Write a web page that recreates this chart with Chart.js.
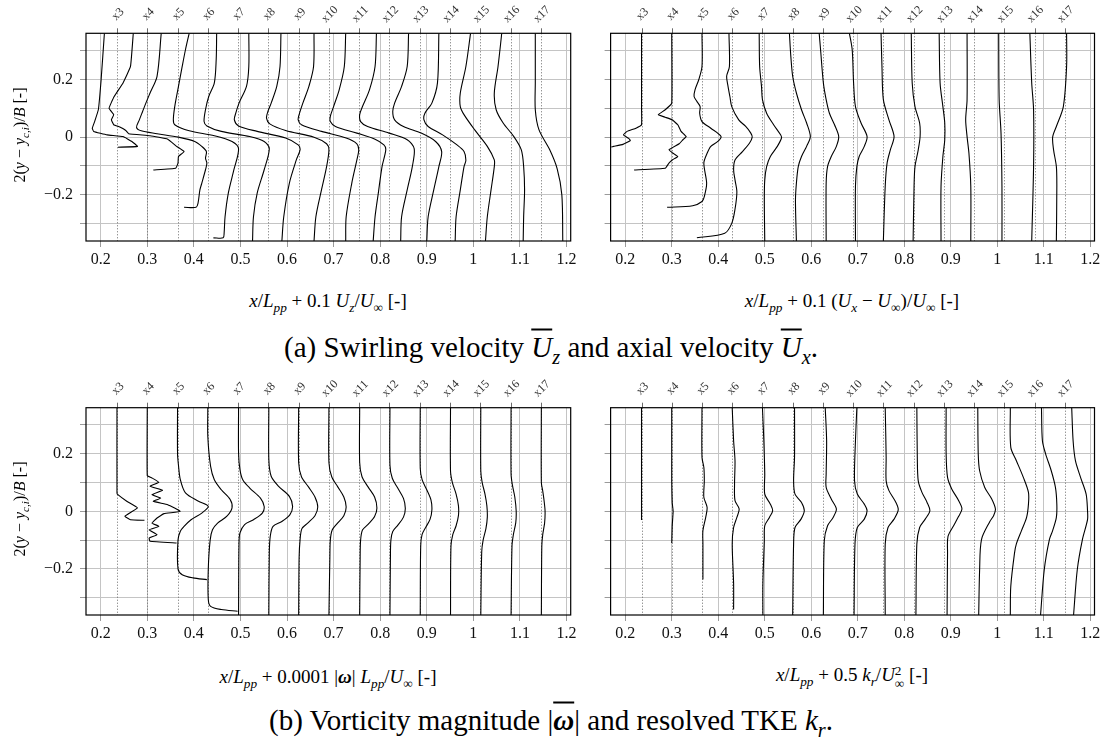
<!DOCTYPE html>
<html>
<head>
<meta charset="utf-8">
<script src="https://cdn.jsdelivr.net/npm/chart.js@4.4.1/dist/chart.umd.min.js"></script>
<style>
  body { margin: 0; background: #fff; width: 1107px; height: 740px; position: relative; overflow: hidden;
         font-family: "Liberation Serif", "DejaVu Serif", serif; color: #000; }
  canvas { position: absolute; }
  .t { position: absolute; white-space: nowrap; transform: translate(-50%, -50%); font-size: 19px; }
  .cap { font-size: 29px; }
  .yt { transform: translate(-50%, -50%) rotate(-90deg); font-size: 16px; }
  sub { font-size: 70%; vertical-align: -0.35em; line-height: 0; }
  .ss { display: inline-block; font-size: 70%; line-height: 1; vertical-align: -0.5em; text-align: left; }
  .ov { text-decoration: overline; }
</style>
</head>
<body>
<canvas id="uz" width="590" height="275" style="left:0;top:0"></canvas>
<canvas id="ux" width="517" height="275" style="left:590px;top:0"></canvas>
<canvas id="vort" width="590" height="275" style="left:0;top:370px"></canvas>
<canvas id="tke" width="517" height="275" style="left:590px;top:370px"></canvas>

<div class="t yt" style="left:20px;top:135px">2(<i>y</i> − <i>y</i><sub><i>c,i</i></sub>)/<i>B</i> [-]</div>
<div class="t yt" style="left:20px;top:509px">2(<i>y</i> − <i>y</i><sub><i>c,i</i></sub>)/<i>B</i> [-]</div>
<div class="t" style="left:328px;top:301px"><i>x</i>/<i>L</i><sub><i>pp</i></sub> + 0.1 <i>U</i><sub><i>z</i></sub>/<i>U</i><sub>∞</sub> [-]</div>
<div class="t" style="left:852px;top:301px"><i>x</i>/<i>L</i><sub><i>pp</i></sub> + 0.1 (<i>U</i><sub><i>x</i></sub> − <i>U</i><sub>∞</sub>)/<i>U</i><sub>∞</sub> [-]</div>
<div class="t" style="left:328px;top:677px"><i>x</i>/<i>L</i><sub><i>pp</i></sub> + 0.0001 |<b><i>ω</i></b>| <i>L</i><sub><i>pp</i></sub>/<i>U</i><sub>∞</sub> [-]</div>
<div class="t" style="left:852px;top:677px"><i>x</i>/<i>L</i><sub><i>pp</i></sub> + 0.5 <i>k</i><sub><i>r</i></sub>/<i>U</i><span class="ss">2<br>∞</span> [-]</div>
<div class="t cap" style="left:551px;top:347px">(a) Swirling velocity <i class="ov">U</i><sub><i>z</i></sub> and axial velocity <i class="ov">U</i><sub><i>x</i></sub>.</div>
<div class="t cap" style="left:551px;top:720px">(b) Vorticity magnitude |<b><i class="ov">ω</i></b>| and resolved TKE <i>k</i><sub><i>r</i></sub>.</div>

<script>
// stations x3..x17 (x/Lpp)
const stations = [0.235, 0.300, 0.365, 0.430, 0.495, 0.560, 0.625, 0.690, 0.755, 0.820, 0.885, 0.950, 1.015, 1.080, 1.145];
const stationLabels = ["x3", "x4", "x5", "x6", "x7", "x8", "x9", "x10", "x11", "x12", "x13", "x14", "x15", "x16", "x17"];

const xTickValues = [0.2, 0.3, 0.4, 0.5, 0.6, 0.7, 0.8, 0.9, 1.0, 1.1, 1.2];
const xTickLabels = ["0.2", "0.3", "0.4", "0.5", "0.6", "0.7", "0.8", "0.9", "1", "1.1", "1.2"];
const yTickValues = [-0.3, -0.2, -0.1, 0, 0.1, 0.2, 0.3];
const yTickLabels = ["", "−0.2", "", "0", "", "0.2", ""];

// profiles: [x/Lpp + scaled quantity, 2(y - yc)/B]
const uzProfiles = [
  [[0.208,0.36],[0.201,0.2],[0.195,0.095],[0.187,0.054],[0.182,0.031],[0.185,0.02],[0.214,0.008],[0.248,0.002],[0.267,-0.015],[0.279,-0.032],[0.237,-0.035]],
  [[0.270,0.36],[0.264,0.245],[0.248,0.188],[0.229,0.141],[0.218,0.1],[0.228,0.078],[0.223,0.06],[0.228,0.043],[0.241,0.035],[0.254,0.023],[0.260,0.012],[0.306,0.005],[0.344,-0.007],[0.363,-0.032],[0.379,-0.05],[0.367,-0.067],[0.366,-0.09],[0.361,-0.108],[0.313,-0.114]],
  [[0.330,0.36],[0.321,0.211],[0.306,0.153],[0.297,0.118],[0.290,0.089],[0.283,0.06],[0.277,0.034],[0.287,0.022],[0.321,0.012],[0.367,0.0],[0.402,-0.015],[0.417,-0.032],[0.427,-0.05],[0.425,-0.073],[0.428,-0.09],[0.425,-0.113],[0.417,-0.16],[0.413,-0.183],[0.409,-0.229],[0.405,-0.243],[0.379,-0.243]],
  [[0.390,0.36],[0.382,0.303],[0.375,0.245],[0.367,0.176],[0.359,0.106],[0.356,0.06],[0.359,0.043],[0.390,0.022],[0.444,0.005],[0.482,-0.015],[0.496,-0.04],[0.486,-0.113],[0.474,-0.194],[0.467,-0.276],[0.465,-0.333],[0.463,-0.349],[0.442,-0.349]],
  [[0.449,0.36],[0.448,0.269],[0.444,0.188],[0.432,0.141],[0.425,0.095],[0.422,0.054],[0.428,0.039],[0.459,0.02],[0.520,0.002],[0.551,-0.015],[0.562,-0.04],[0.551,-0.113],[0.536,-0.194],[0.528,-0.276],[0.526,-0.36]],
  [[0.518,0.36],[0.518,0.245],[0.513,0.176],[0.497,0.118],[0.490,0.083],[0.487,0.06],[0.496,0.039],[0.536,0.02],[0.597,-0.003],[0.624,-0.027],[0.628,-0.044],[0.620,-0.079],[0.605,-0.16],[0.593,-0.276],[0.589,-0.36]],
  [[0.587,0.36],[0.585,0.245],[0.578,0.176],[0.566,0.118],[0.559,0.089],[0.556,0.066],[0.563,0.046],[0.597,0.023],[0.658,0.0],[0.685,-0.023],[0.690,-0.044],[0.685,-0.102],[0.674,-0.183],[0.662,-0.276],[0.658,-0.36]],
  [[0.658,0.36],[0.657,0.245],[0.647,0.176],[0.634,0.118],[0.626,0.078],[0.624,0.06],[0.631,0.043],[0.674,0.02],[0.727,-0.003],[0.750,-0.023],[0.754,-0.044],[0.750,-0.079],[0.739,-0.16],[0.727,-0.276],[0.726,-0.36]],
  [[0.726,0.36],[0.723,0.245],[0.712,0.164],[0.700,0.106],[0.693,0.072],[0.693,0.054],[0.704,0.037],[0.750,0.014],[0.789,-0.007],[0.808,-0.027],[0.812,-0.044],[0.804,-0.102],[0.796,-0.194],[0.789,-0.276],[0.785,-0.36]],
  [[0.792,0.36],[0.789,0.245],[0.777,0.164],[0.762,0.106],[0.756,0.078],[0.758,0.054],[0.773,0.037],[0.819,0.014],[0.858,-0.009],[0.873,-0.04],[0.869,-0.102],[0.858,-0.183],[0.846,-0.276],[0.844,-0.36]],
  [[0.861,0.36],[0.858,0.245],[0.846,0.176],[0.831,0.118],[0.827,0.089],[0.831,0.06],[0.850,0.037],[0.888,0.014],[0.919,-0.015],[0.932,-0.05],[0.926,-0.102],[0.915,-0.183],[0.903,-0.276],[0.900,-0.36]],
  [[0.926,0.36],[0.923,0.188],[0.911,0.118],[0.896,0.083],[0.894,0.06],[0.903,0.037],[0.934,0.008],[0.965,-0.027],[0.980,-0.05],[0.984,-0.08],[0.980,-0.102],[0.972,-0.183],[0.963,-0.276],[0.961,-0.36]],
  [[0.994,0.36],[0.984,0.245],[0.972,0.153],[0.972,0.106],[0.980,0.078],[1.003,0.025],[1.030,-0.032],[1.045,-0.079],[1.045,-0.102],[1.038,-0.183],[1.030,-0.276],[1.026,-0.36]],
  [[1.061,0.36],[1.053,0.245],[1.045,0.153],[1.049,0.095],[1.064,0.049],[1.087,0.002],[1.103,-0.044],[1.108,-0.102],[1.110,-0.183],[1.108,-0.276],[1.107,-0.36]],
  [[1.133,0.36],[1.133,0.188],[1.133,0.095],[1.141,0.025],[1.164,-0.044],[1.180,-0.11],[1.190,-0.2],[1.192,-0.36]]
];

const uxProfiles = [
  [[0.235,0.36],[0.235,0.1],[0.235,0.043],[0.223,0.031],[0.204,0.02],[0.196,0.008],[0.208,-0.005],[0.211,-0.012],[0.195,-0.025],[0.175,-0.032],[0.170,-0.034]],
  [[0.300,0.36],[0.300,0.118],[0.286,0.095],[0.271,0.078],[0.286,0.069],[0.301,0.06],[0.313,0.043],[0.320,0.02],[0.331,0.002],[0.324,-0.009],[0.316,-0.023],[0.294,-0.044],[0.305,-0.058],[0.313,-0.067],[0.301,-0.079],[0.294,-0.09],[0.286,-0.108],[0.219,-0.114]],
  [[0.365,0.36],[0.365,0.245],[0.358,0.199],[0.350,0.164],[0.348,0.141],[0.354,0.124],[0.361,0.106],[0.360,0.083],[0.365,0.054],[0.384,0.031],[0.406,0.002],[0.399,-0.015],[0.384,-0.032],[0.376,-0.056],[0.369,-0.09],[0.375,-0.16],[0.370,-0.206],[0.365,-0.223],[0.345,-0.238],[0.290,-0.243]],
  [[0.423,0.36],[0.424,0.245],[0.418,0.211],[0.421,0.176],[0.425,0.141],[0.429,0.106],[0.444,0.06],[0.459,0.037],[0.470,0.014],[0.473,0.0],[0.467,-0.021],[0.452,-0.05],[0.436,-0.079],[0.433,-0.113],[0.436,-0.148],[0.440,-0.19],[0.436,-0.25],[0.429,-0.299],[0.414,-0.333],[0.354,-0.349]],
  [[0.488,0.36],[0.489,0.245],[0.493,0.176],[0.495,0.13],[0.504,0.083],[0.519,0.043],[0.534,0.008],[0.536,-0.003],[0.527,-0.032],[0.512,-0.067],[0.504,-0.102],[0.500,-0.148],[0.499,-0.218],[0.500,-0.36]],
  [[0.553,0.36],[0.556,0.281],[0.560,0.211],[0.568,0.153],[0.579,0.095],[0.590,0.049],[0.598,0.002],[0.590,-0.032],[0.579,-0.067],[0.572,-0.102],[0.568,-0.16],[0.566,-0.22],[0.568,-0.36]],
  [[0.617,0.36],[0.620,0.303],[0.626,0.188],[0.632,0.13],[0.639,0.083],[0.650,0.043],[0.659,0.002],[0.654,-0.032],[0.643,-0.067],[0.635,-0.102],[0.632,-0.16],[0.632,-0.36]],
  [[0.682,0.36],[0.688,0.303],[0.691,0.188],[0.695,0.106],[0.707,0.049],[0.720,0.002],[0.714,-0.032],[0.703,-0.067],[0.698,-0.102],[0.695,-0.17],[0.695,-0.36]],
  [[0.750,0.36],[0.752,0.245],[0.755,0.13],[0.767,0.06],[0.778,0.002],[0.770,-0.044],[0.763,-0.09],[0.759,-0.17],[0.755,-0.36]],
  [[0.815,0.36],[0.817,0.188],[0.823,0.106],[0.833,0.049],[0.834,0.002],[0.830,-0.044],[0.823,-0.102],[0.821,-0.17],[0.819,-0.36]],
  [[0.875,0.36],[0.877,0.188],[0.883,0.106],[0.887,0.049],[0.887,-0.009],[0.883,-0.067],[0.879,-0.17],[0.879,-0.36]],
  [[0.935,0.36],[0.935,0.13],[0.932,0.06],[0.935,0.002],[0.939,-0.056],[0.943,-0.17],[0.943,-0.36]],
  [[1.003,0.36],[1.004,0.13],[1.008,0.014],[1.010,-0.17],[1.010,-0.36]],
  [[1.070,0.36],[1.074,0.188],[1.078,0.095],[1.078,-0.102],[1.074,-0.36]],
  [[1.149,0.36],[1.149,0.245],[1.142,0.106],[1.127,0.037],[1.119,0.0],[1.121,-0.044],[1.127,-0.102],[1.128,-0.17],[1.127,-0.36]]
];

const vortProfiles = [
  [[0.235,0.36],[0.235,0.064],[0.237,0.058],[0.256,0.035],[0.279,0.012],[0.252,-0.017],[0.264,-0.029],[0.294,-0.031]],
  [[0.300,0.36],[0.300,0.124],[0.310,0.116],[0.325,0.101],[0.306,0.087],[0.333,0.073],[0.310,0.058],[0.329,0.046],[0.313,0.035],[0.344,0.023],[0.371,0.0],[0.336,-0.008],[0.321,-0.023],[0.310,-0.041],[0.325,-0.052],[0.304,-0.064],[0.321,-0.081],[0.304,-0.093],[0.306,-0.104],[0.363,-0.11]],
  [[0.365,0.36],[0.365,0.2],[0.367,0.16],[0.371,0.11],[0.382,0.064],[0.410,0.035],[0.431,0.017],[0.417,-0.006],[0.394,-0.029],[0.379,-0.052],[0.371,-0.069],[0.366,-0.1],[0.366,-0.2],[0.375,-0.22],[0.398,-0.231],[0.428,-0.237]],
  [[0.430,0.36],[0.430,0.26],[0.436,0.156],[0.444,0.11],[0.459,0.075],[0.478,0.041],[0.482,0.012],[0.471,-0.017],[0.451,-0.041],[0.440,-0.064],[0.435,-0.1],[0.431,-0.2],[0.431,-0.306],[0.436,-0.33],[0.459,-0.341],[0.494,-0.347]],
  [[0.496,0.36],[0.496,0.203],[0.499,0.145],[0.505,0.11],[0.520,0.081],[0.543,0.046],[0.551,0.017],[0.547,-0.006],[0.528,-0.029],[0.509,-0.046],[0.499,-0.075],[0.497,-0.11],[0.496,-0.36]],
  [[0.561,0.36],[0.561,0.18],[0.566,0.122],[0.582,0.087],[0.605,0.052],[0.612,0.017],[0.606,-0.012],[0.589,-0.035],[0.570,-0.052],[0.564,-0.087],[0.562,-0.145],[0.561,-0.36]],
  [[0.625,0.36],[0.625,0.17],[0.631,0.12],[0.646,0.085],[0.660,0.05],[0.666,0.015],[0.660,-0.015],[0.645,-0.04],[0.632,-0.06],[0.628,-0.1],[0.626,-0.16],[0.625,-0.36]],
  [[0.690,0.36],[0.690,0.17],[0.696,0.12],[0.709,0.085],[0.722,0.05],[0.727,0.015],[0.722,-0.015],[0.708,-0.042],[0.697,-0.065],[0.693,-0.1],[0.692,-0.16],[0.690,-0.36]],
  [[0.756,0.36],[0.756,0.17],[0.761,0.12],[0.774,0.085],[0.788,0.05],[0.793,0.012],[0.788,-0.018],[0.774,-0.045],[0.762,-0.065],[0.758,-0.1],[0.757,-0.16],[0.756,-0.36]],
  [[0.821,0.36],[0.821,0.16],[0.826,0.115],[0.838,0.08],[0.850,0.045],[0.854,0.01],[0.850,-0.02],[0.838,-0.048],[0.827,-0.07],[0.823,-0.1],[0.822,-0.16],[0.821,-0.36]],
  [[0.886,0.36],[0.886,0.15],[0.890,0.11],[0.900,0.075],[0.909,0.04],[0.911,0.005],[0.907,-0.028],[0.898,-0.055],[0.890,-0.08],[0.887,-0.12],[0.886,-0.36]],
  [[0.951,0.36],[0.951,0.14],[0.955,0.1],[0.963,0.06],[0.968,0.02],[0.968,-0.015],[0.963,-0.05],[0.956,-0.08],[0.952,-0.12],[0.951,-0.36]],
  [[1.016,0.36],[1.016,0.14],[1.019,0.1],[1.025,0.06],[1.029,0.02],[1.030,-0.02],[1.027,-0.06],[1.021,-0.1],[1.018,-0.14],[1.016,-0.36]],
  [[1.081,0.36],[1.081,0.13],[1.084,0.09],[1.089,0.05],[1.092,0.0],[1.091,-0.04],[1.086,-0.08],[1.083,-0.12],[1.081,-0.36]],
  [[1.146,0.36],[1.146,0.1],[1.149,0.07],[1.152,0.035],[1.154,0.0],[1.153,-0.04],[1.149,-0.08],[1.147,-0.12],[1.146,-0.36]]
];

const tkeProfiles = [
  [[0.235,0.36],[0.235,-0.03]],
  [[0.300,0.36],[0.300,0.1],[0.301,0.03],[0.303,0.0],[0.301,-0.05],[0.300,-0.11]],
  [[0.365,0.36],[0.365,0.188],[0.369,0.153],[0.370,0.106],[0.369,0.049],[0.376,0.014],[0.373,-0.021],[0.367,-0.067],[0.367,-0.113],[0.367,-0.2],[0.367,-0.237]],
  [[0.430,0.36],[0.433,0.245],[0.436,0.176],[0.435,0.095],[0.436,0.037],[0.445,0.008],[0.440,-0.021],[0.433,-0.056],[0.430,-0.113],[0.433,-0.25],[0.433,-0.341]],
  [[0.495,0.36],[0.498,0.245],[0.500,0.13],[0.500,0.06],[0.512,0.025],[0.517,0.002],[0.510,-0.021],[0.500,-0.05],[0.499,-0.102],[0.496,-0.25],[0.496,-0.36]],
  [[0.564,0.36],[0.564,0.188],[0.562,0.106],[0.565,0.06],[0.579,0.031],[0.585,0.002],[0.578,-0.027],[0.565,-0.056],[0.562,-0.113],[0.560,-0.36]],
  [[0.630,0.36],[0.633,0.245],[0.632,0.13],[0.632,0.083],[0.643,0.043],[0.654,0.008],[0.647,-0.021],[0.635,-0.05],[0.628,-0.102],[0.626,-0.36]],
  [[0.698,0.36],[0.695,0.245],[0.693,0.106],[0.699,0.06],[0.714,0.025],[0.720,0.002],[0.714,-0.027],[0.699,-0.056],[0.694,-0.113],[0.692,-0.36]],
  [[0.759,0.36],[0.761,0.188],[0.761,0.106],[0.767,0.072],[0.782,0.031],[0.787,0.005],[0.778,-0.027],[0.765,-0.056],[0.759,-0.113],[0.759,-0.36]],
  [[0.827,0.36],[0.828,0.188],[0.830,0.106],[0.838,0.066],[0.849,0.031],[0.855,0.002],[0.845,-0.027],[0.833,-0.056],[0.827,-0.113],[0.825,-0.36]],
  [[0.890,0.36],[0.890,0.199],[0.893,0.118],[0.902,0.078],[0.917,0.037],[0.924,0.008],[0.916,-0.02],[0.906,-0.05],[0.894,-0.087],[0.893,-0.145],[0.892,-0.36]],
  [[0.958,0.36],[0.959,0.199],[0.962,0.141],[0.973,0.083],[0.988,0.043],[0.996,0.008],[0.992,-0.015],[0.984,-0.035],[0.966,-0.098],[0.962,-0.202],[0.960,-0.36]],
  [[1.028,0.36],[1.029,0.222],[1.041,0.176],[1.056,0.118],[1.067,0.066],[1.067,0.025],[1.063,-0.021],[1.052,-0.067],[1.041,-0.113],[1.037,-0.145],[1.029,-0.26],[1.028,-0.36]],
  [[1.095,0.36],[1.097,0.245],[1.104,0.199],[1.116,0.141],[1.125,0.083],[1.128,0.025],[1.127,-0.021],[1.119,-0.067],[1.112,-0.098],[1.101,-0.202],[1.093,-0.36]],
  [[1.160,0.36],[1.163,0.245],[1.168,0.176],[1.179,0.118],[1.191,0.06],[1.194,0.002],[1.194,-0.029],[1.183,-0.098],[1.172,-0.202],[1.164,-0.36]]
];

const X_MIN = 0.1685, X_MAX = 1.209, Y_MIN = -0.36, Y_MAX = 0.36;

// station dotted lines, labels and frame
const stationPlugin = {
  id: "stations",
  beforeDatasetsDraw(chart) {
    const { ctx, chartArea: a, scales } = chart;
    ctx.save();
    ctx.strokeStyle = "#6a6a6a";
    ctx.lineWidth = 1;
    stations.forEach((s) => {
      const px = Math.round(scales.x.getPixelForValue(s)) + 0.5;
      ctx.setLineDash([]);
      ctx.beginPath(); ctx.moveTo(px, a.top - 5); ctx.lineTo(px, a.top); ctx.stroke();
      ctx.setLineDash([1, 2]);
      ctx.beginPath(); ctx.moveTo(px, a.top); ctx.lineTo(px, a.bottom); ctx.stroke();
    });
    ctx.restore();
  },
  afterDatasetsDraw(chart) {
    const { ctx, chartArea: a, scales } = chart;
    ctx.save();
    ctx.strokeStyle = "#000";
    ctx.lineWidth = 1.2;
    ctx.strokeRect(a.left, a.top, a.right - a.left, a.bottom - a.top);
    ctx.fillStyle = "#333";
    ctx.font = "12px 'Liberation Serif', serif";
    ctx.textAlign = "center";
    ctx.textBaseline = "middle";
    stations.forEach((s, i) => {
      const px = scales.x.getPixelForValue(s);
      ctx.save();
      ctx.translate(px + 1, a.top - 19);
      ctx.rotate(-Math.PI / 4);
      ctx.fillText(stationLabels[i], 0, 0);
      ctx.restore();
    });
    ctx.restore();
  }
};

function makePanel(id, profiles, opts) {
  const ctx = document.getElementById(id).getContext("2d");
  return new Chart(ctx, {
    type: "scatter",
    data: {
      datasets: profiles.map((p, i) => ({
        data: p.map(([x, y]) => ({ x, y })),
        showLine: true,
        borderColor: "#000",
        borderWidth: 1.1,
        pointRadius: 0,
        tension: i < 2 ? 0.1 : 0.3,
      })),
    },
    options: {
      responsive: false,
      animation: false,
      layout: { padding: { top: opts.top, right: opts.right, left: 0, bottom: 0 } },
      plugins: { legend: { display: false }, tooltip: { enabled: false } },
      scales: {
        x: {
          type: "linear", min: X_MIN, max: X_MAX,
          afterBuildTicks: (s) => { s.ticks = xTickValues.map((v) => ({ value: v })); },
          afterFit: (s) => { s.height = opts.xh; },
          grid: { color: "#c4c4c4", lineWidth: 1, tickLength: 6, tickColor: "#9a9a9a" },
          border: { display: false },
          ticks: {
            padding: 3, color: "#111", maxRotation: 0, autoSkip: false,
            font: { family: "'Liberation Serif', serif", size: 16 },
            callback: (v, i) => xTickLabels[i],
          },
        },
        y: {
          type: "linear", min: Y_MIN, max: Y_MAX,
          afterBuildTicks: (s) => { s.ticks = yTickValues.map((v) => ({ value: v })); },
          afterFit: (s) => { s.width = opts.yw; },
          grid: { color: "#c4c4c4", lineWidth: 1, tickLength: 6, tickColor: "#9a9a9a" },
          border: { display: false },
          ticks: {
            padding: 7, color: "#111", autoSkip: false,
            font: { family: "'Liberation Serif', serif", size: 16 },
            callback: (v, i) => (opts.labels ? yTickLabels[i] : ""),
          },
        },
      },
    },
    plugins: [stationPlugin],
  });
}

makePanel("uz", uzProfiles, { top: 33.3, right: 19.3, xh: 34, yw: 86, labels: true });
makePanel("ux", uxProfiles, { top: 33.3, right: 12.5, xh: 34, yw: 20.6, labels: false });
makePanel("vort", vortProfiles, { top: 37.7, right: 19.3, xh: 30, yw: 86, labels: true });
makePanel("tke", tkeProfiles, { top: 37.7, right: 12.5, xh: 30, yw: 20.6, labels: false });
</script>
</body>
</html>
